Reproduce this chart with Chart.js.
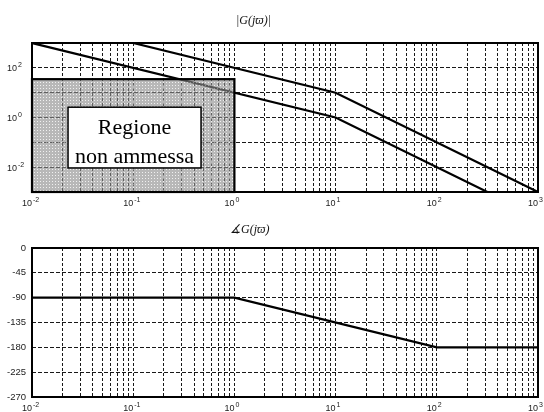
<!DOCTYPE html>
<html>
<head>
<meta charset="utf-8">
<script src="https://cdn.jsdelivr.net/npm/chart.js@4/dist/chart.umd.min.js"></script>
<style>
  html, body { margin: 0; padding: 0; background: #fff; }
  #wrap { position: relative; width: 544px; height: 412px; overflow: hidden; }
  #wrap canvas { position: absolute; left: 0; top: 0; }
  .title { position: absolute; font-family: "Liberation Serif", "Times New Roman", serif;
           font-style: italic; font-size: 12px; color: #111; white-space: nowrap; line-height: 1; }
</style>
</head>
<body>
<div id="wrap">
  <canvas id="mag" width="544" height="412"></canvas>
  <canvas id="phase" width="544" height="412"></canvas>
  <div class="title" style="left:236px; top:14px;">|G(jϖ)|</div>
  <div class="title" style="left:230px; top:223px;">∡G(jϖ)</div>
</div>
<script>
// Asymptotic Bode diagram: two magnitude plots and the common phase plot.

// frequency breakpoints (rad/s) and magnitudes of the two asymptotic curves
const omegaLow  = [0.01, 10, 316.2];
const magLow    = [1000, 1, 0.001];
const omegaHigh = [0.1, 10, 1000];
const magHigh   = [1000, 10, 0.001];

// phase (degrees)
const omegaPhase = [0.01, 1, 100, 1000];
const phaseDeg   = [-90, -90, -180, -180];

// forbidden region: frequency range and upper magnitude bound
const regionOmega = [0.01, 1];
const regionMag   = [0.001, 35];
const regionText  = ['Regione', 'non ammessa'];

// axis ranges and tick labels
const omegaRange   = [0.01, 1000];
const decadeExp    = [-2, -1, 0, 1, 2, 3];
const magRange     = [0.001, 1000];
const magGridExp   = [-3, -2, -1, 0, 1, 2, 3];
const magLabelExp  = [-2, 0, 2];
const phaseRange   = [-270, 0];
const phaseTicks   = [0, -45, -90, -135, -180, -225, -270];

// vertical grid: 1..9 times each decade
const omegaGrid = [];
decadeExp.forEach(e => {
  for (let m = 1; m <= 9; m++) {
    const v = m * Math.pow(10, e);
    if (v <= omegaRange[1] * 1.0001) omegaGrid.push(v);
  }
});

const LABEL_FONT = '"Liberation Sans", Arial, sans-serif';
const INK = '#222';

function pts(xs, ys) { return xs.map((x, i) => ({ x: x, y: ys[i] })); }

function powLabel(ctx, xRight, yBase, exp, baseSize) {
  ctx.save();
  ctx.fillStyle = INK;
  ctx.textBaseline = 'alphabetic';
  ctx.font = baseSize + 'px ' + LABEL_FONT;
  ctx.textAlign = 'right';
  ctx.fillText('10', xRight, yBase);
  ctx.font = Math.round(baseSize * 0.75) + 'px ' + LABEL_FONT;
  ctx.textAlign = 'left';
  ctx.fillText(String(exp), xRight + 1, yBase - 4);
  ctx.restore();
}

function frame(chart) {
  const a = chart.chartArea, ctx = chart.ctx;
  ctx.save();
  ctx.strokeStyle = '#000';
  ctx.lineWidth = 2;
  ctx.strokeRect(a.left, a.top, a.right - a.left, a.bottom - a.top);
  ctx.restore();
}

function xDecadeLabels(chart, yBase) {
  const xs = chart.scales.x;
  decadeExp.forEach(e => {
    powLabel(chart.ctx, xs.getPixelForValue(Math.pow(10, e)), yBase, e, 9);
  });
}

// shading pattern for the forbidden region
const tile = document.createElement('canvas');
tile.width = 3; tile.height = 3;
(function () {
  const t = tile.getContext('2d');
  t.fillStyle = 'rgba(140,140,140,0.62)';
  t.fillRect(0, 0, 3, 3);
  t.clearRect(1, 1, 1, 1);
  t.fillStyle = 'rgba(230,230,230,0.62)';
  t.fillRect(1, 1, 1, 1);
})();

const magDecor = {
  id: 'magDecor',
  afterDatasetsDraw(chart) {
    const ctx = chart.ctx, xs = chart.scales.x, ys = chart.scales.y;
    // forbidden region
    const x0 = xs.getPixelForValue(regionOmega[0]), x1 = xs.getPixelForValue(regionOmega[1]);
    const y0 = ys.getPixelForValue(regionMag[1]), y1 = ys.getPixelForValue(regionMag[0]);
    ctx.save();
    ctx.fillStyle = ctx.createPattern(tile, 'repeat');
    ctx.fillRect(x0, y0, x1 - x0, y1 - y0);
    ctx.strokeStyle = '#000';
    ctx.lineWidth = 2.2;
    ctx.strokeRect(x0, y0, x1 - x0, y1 - y0);
    // label box
    const bx0 = xs.getPixelForValue(0.0227), bx1 = xs.getPixelForValue(0.468);
    const by0 = ys.getPixelForValue(2.6), by1 = ys.getPixelForValue(0.0093);
    ctx.fillStyle = '#fff';
    ctx.fillRect(bx0, by0, bx1 - bx0, by1 - by0);
    ctx.lineWidth = 1.5;
    ctx.strokeRect(bx0, by0, bx1 - bx0, by1 - by0);
    ctx.fillStyle = '#000';
    ctx.font = '22px "Liberation Serif", "Times New Roman", serif';
    ctx.textAlign = 'center';
    ctx.textBaseline = 'alphabetic';
    const cx = (bx0 + bx1) / 2;
    ctx.fillText(regionText[0], cx, by0 + 27);
    ctx.fillText(regionText[1], cx, by0 + 56);
    ctx.restore();
    frame(chart);
  },
  afterDraw(chart) {
    const ys = chart.scales.y;
    magLabelExp.forEach(e => {
      powLabel(chart.ctx, 17, ys.getPixelForValue(Math.pow(10, e)) + 3.5, e, 9);
    });
    xDecadeLabels(chart, chart.chartArea.bottom + 14);
  }
};

const phaseDecor = {
  id: 'phaseDecor',
  afterDatasetsDraw(chart) { frame(chart); },
  afterDraw(chart) {
    const ctx = chart.ctx, ys = chart.scales.y;
    ctx.save();
    ctx.fillStyle = INK;
    ctx.font = '9.5px ' + LABEL_FONT;
    ctx.textAlign = 'right';
    ctx.textBaseline = 'middle';
    phaseTicks.forEach(v => ctx.fillText(String(v), 26, ys.getPixelForValue(v)));
    ctx.restore();
    xDecadeLabels(chart, chart.chartArea.bottom + 14);
  }
};

function gridOpts() {
  return {
    display: true,
    drawTicks: false,
    color: 'rgba(0,0,0,0.9)',
    lineWidth: 1
  };
}

function logX() {
  return {
    type: 'logarithmic',
    min: omegaRange[0], max: omegaRange[1],
    grid: gridOpts(),
    border: { display: false, dash: [3, 2] },
    ticks: { display: false },
    afterBuildTicks(s) { s.ticks = omegaGrid.map(v => ({ value: v })); },
    afterFit(s) { s.height = 0; }
  };
}

const lineStyle = { borderColor: '#000', borderWidth: 2.2, pointRadius: 0, tension: 0, fill: false };

new Chart(document.getElementById('mag'), {
  type: 'line',
  data: {
    datasets: [
      Object.assign({ data: pts(omegaLow, magLow) }, lineStyle),
      Object.assign({ data: pts(omegaHigh, magHigh) }, lineStyle)
    ]
  },
  options: {
    responsive: false, animation: false, devicePixelRatio: 1,
    layout: { padding: { left: 32, right: 6, top: 43, bottom: 220 } },
    plugins: { legend: { display: false }, tooltip: { enabled: false } },
    scales: {
      x: logX(),
      y: {
        type: 'logarithmic',
        min: magRange[0], max: magRange[1],
        grid: gridOpts(),
        border: { display: false, dash: [4, 2] },
        ticks: { display: false },
        afterBuildTicks(s) { s.ticks = magGridExp.map(e => ({ value: Math.pow(10, e) })); },
        afterFit(s) { s.width = 0; }
      }
    }
  },
  plugins: [magDecor]
});

new Chart(document.getElementById('phase'), {
  type: 'line',
  data: {
    datasets: [Object.assign({ data: pts(omegaPhase, phaseDeg) }, lineStyle)]
  },
  options: {
    responsive: false, animation: false, devicePixelRatio: 1,
    layout: { padding: { left: 32, right: 6, top: 248, bottom: 15 } },
    plugins: { legend: { display: false }, tooltip: { enabled: false } },
    scales: {
      x: logX(),
      y: {
        type: 'linear',
        min: phaseRange[0], max: phaseRange[1],
        grid: gridOpts(),
        border: { display: false, dash: [4, 2] },
        ticks: { display: false },
        afterBuildTicks(s) { s.ticks = phaseTicks.map(v => ({ value: v })); },
        afterFit(s) { s.width = 0; }
      }
    }
  },
  plugins: [phaseDecor]
});
</script>
</body>
</html>
